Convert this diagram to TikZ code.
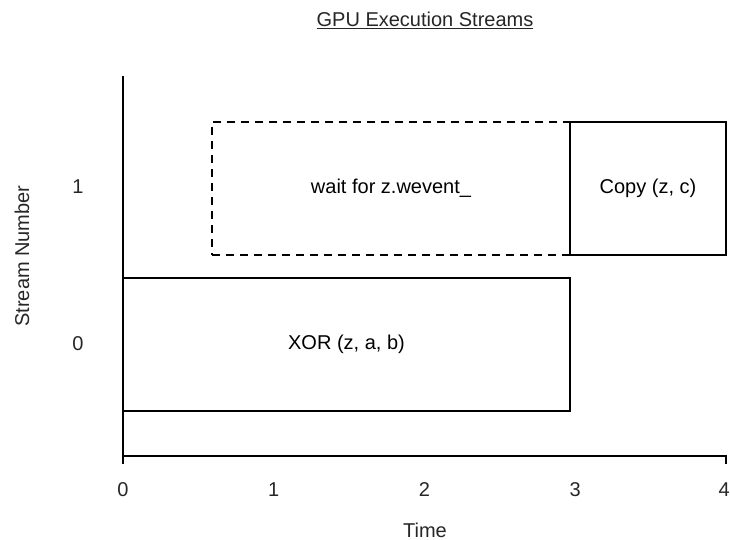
\documentclass[tikz,border=0pt]{standalone}
\usepackage{fontspec}
\setmainfont{Liberation Sans}
\usetikzlibrary{positioning, calc}
\tikzset
{%
axis/.style={line width=1.8pt, line cap=rect},
job/.style={draw, rectangle, line width=1.8pt, inner sep=0pt, outer sep=0pt, minimum height=133pt},
waitjob/.style={job, dash pattern=on 8pt off 6pt},
lbl/.style={inner sep=0pt, text=black!85}
}

\begin{document}
\begin{tikzpicture}[x=1pt, y=-1pt, font=\fontsize{20}{24}\selectfont]
	\useasboundingbox (0,0) rectangle (730,540);

		% [TITLE]
		\node[lbl] (title) at (425,20) {\underline{GPU Execution Streams}};

		% [AXES]
		\coordinate (o) at (123,456);
		\coordinate (ytop) at (123,77);
		\coordinate (xend) at (726,456);
		\coordinate (otick) at (123,463);
		\coordinate (xtick) at (726,463);
		\draw[axis] (ytop) -- (o) -- (xend);
		\draw[axis] (o) -- (otick) (xend) -- (xtick);

		% tick labels
		\foreach \t in {0,...,3}
			\node[lbl] (t\t) at ({123 + \t*150.75},490) {\t};
		\node[lbl, anchor=east] (t4) at (730,490) {4};
		\node[lbl] (time) at (425,530) {Time};

		\node[lbl] (s1) at (78,187) {1};
		\node[lbl] (s0) at (78,344) {0};
		\node[lbl, rotate=90] (stream) at (22,256) {Stream Number};

		% [STREAM 0]
		\node[job, minimum width=447pt] (xor) at (346.5,344.5) {XOR (z, a, b)};

		% [STREAM 1]
		\node[waitjob, minimum width=358pt] (wait) at (391,188.5) {wait for z.wevent\_};
		\node[job, minimum width=156pt, right=0pt of wait] (copy) {Copy (z, c)};
\end{tikzpicture}
\end{document}
